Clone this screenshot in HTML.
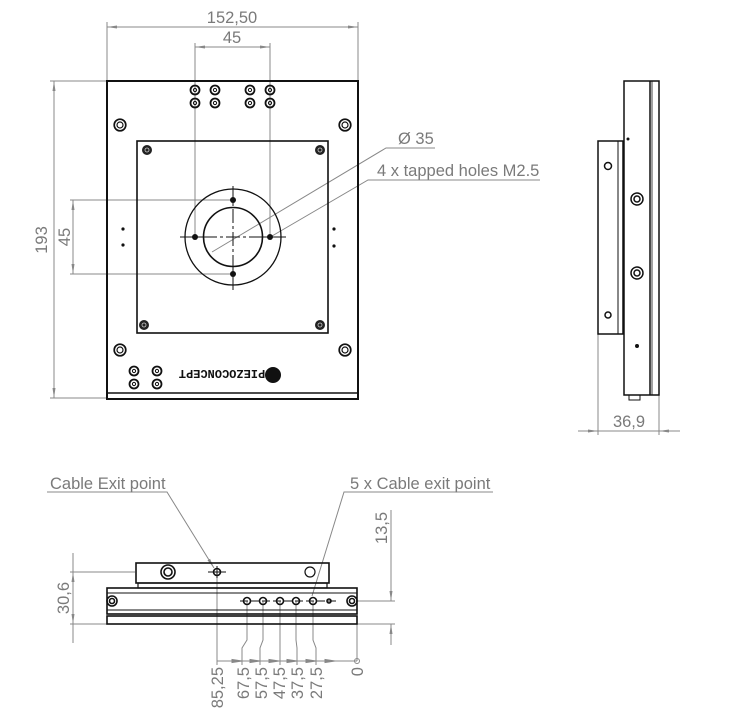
<!DOCTYPE html>
<html><head><meta charset="utf-8"><style>html,body{margin:0;background:#fff}svg{display:block}text{font-family:"Liberation Sans",sans-serif;fill:#7a7a7a;font-size:16.5px}</style></head><body>
<svg width="756" height="720" viewBox="0 0 756 720" xmlns="http://www.w3.org/2000/svg">
<defs>
<marker id="a" viewBox="0 0 10 6" refX="10" refY="3" markerWidth="10" markerHeight="6" orient="auto-start-reverse" markerUnits="userSpaceOnUse"><path d="M0,1.5L10,3L0,4.5z" fill="#888"/></marker>
<g id="dh"><circle r="4.5" fill="none" stroke="#111" stroke-width="1.8"/><circle r="1.6" fill="none" stroke="#111" stroke-width="1"/></g>
<g id="bh"><circle r="5.8" fill="none" stroke="#111" stroke-width="1.7"/><circle r="3" fill="none" stroke="#111" stroke-width="1.2"/></g>
<g id="fh"><circle r="5" fill="#222"/><circle r="2" fill="none" stroke="#ccc" stroke-width="0.8"/></g>
</defs>
<g stroke="#888" stroke-width="1" fill="none">
<line x1="107" y1="22" x2="107" y2="81"/><line x1="358" y1="22" x2="358" y2="81"/>
<line x1="107" y1="27" x2="358" y2="27" marker-start="url(#a)" marker-end="url(#a)"/>
<line x1="195" y1="43" x2="195" y2="237"/><line x1="270" y1="43" x2="270" y2="237"/>
<line x1="195" y1="47" x2="270" y2="47" marker-start="url(#a)" marker-end="url(#a)"/>
<line x1="50" y1="81" x2="107" y2="81"/><line x1="50" y1="398" x2="107" y2="398"/>
<line x1="54" y1="81" x2="54" y2="398" marker-start="url(#a)" marker-end="url(#a)"/>
<line x1="70" y1="200" x2="233" y2="200"/><line x1="70" y1="274" x2="233" y2="274"/>
<line x1="73" y1="200" x2="73" y2="274" marker-start="url(#a)" marker-end="url(#a)"/>
<polyline points="435,148 386,148 212,252"/>
<polyline points="540,180 368,180 272,236" />
<line x1="598" y1="334" x2="598" y2="435"/><line x1="659" y1="395" x2="659" y2="435"/>
<line x1="578" y1="431" x2="598" y2="431" marker-end="url(#a)"/><line x1="680" y1="431" x2="659" y2="431" marker-end="url(#a)"/><line x1="598" y1="431" x2="659" y2="431"/>
<line x1="70" y1="572" x2="135" y2="572"/><line x1="70" y1="624" x2="107" y2="624"/>
<line x1="73" y1="553" x2="73" y2="572" /><line x1="73" y1="572" x2="73" y2="624" marker-start="url(#a)" marker-end="url(#a)"/><line x1="73" y1="624" x2="73" y2="643"/>
<line x1="357" y1="601" x2="395" y2="601"/><line x1="357" y1="624" x2="395" y2="624"/>
<line x1="391" y1="510" x2="391" y2="601" marker-end="url(#a)"/><line x1="391" y1="645" x2="391" y2="624" marker-end="url(#a)"/>
<polyline points="493,492 344,492 312,596"/>
<polyline points="47,492 167,492 214,568" marker-end="url(#a)"/>
<line x1="217" y1="572" x2="217" y2="665"/>
<path d="M247,601V640L242,648V665M263,601V640L260,648V665M280,601V665M296,601V640L297,648V665M313,601V640L316,648V665M357,624V661"/>
<line x1="217" y1="661" x2="357" y2="661"/>
<path d="M242,661l-10,-1.5v3zM260,661l-10,-1.5v3zM279,661l-10,-1.5v3zM297,661l-10,-1.5v3zM316,661l-10,-1.5v3zM335,661l-10,-1.5v3z" fill="#888"/>
<circle cx="357" cy="661" r="2.5"/>
</g>
<g stroke="#111" fill="none">
<rect x="107" y="81" width="251" height="318" stroke-width="2"/>
<line x1="107" y1="393" x2="358" y2="393" stroke-width="1.5"/>
<rect x="137" y="141" width="191" height="192" stroke-width="1.6"/>
<circle cx="233" cy="237" r="48" stroke-width="1.3"/>
<circle cx="233" cy="237" r="29.5" stroke-width="1.6"/>
<path d="M180,237H286M233,186V290" stroke-width="1" stroke-dasharray="14,3,3,3"/>
<path d="M187,237h16M262,237h16M233,192v14M233,268v14" stroke-width="1"/>
</g>
<g fill="#111"><circle cx="195" cy="237" r="3"/><circle cx="270" cy="237" r="3"/><circle cx="233" cy="200" r="3"/><circle cx="233" cy="274" r="3"/>
<circle cx="123" cy="229" r="1.6"/><circle cx="123" cy="245" r="1.6"/><circle cx="334" cy="229" r="1.6"/><circle cx="334" cy="246" r="1.6"/>
<circle cx="273" cy="375" r="8"/></g>
<use href="#dh" x="195" y="90"/><use href="#dh" x="215" y="90"/><use href="#dh" x="250" y="90"/><use href="#dh" x="270" y="90"/>
<use href="#dh" x="195" y="103"/><use href="#dh" x="215" y="103"/><use href="#dh" x="250" y="103"/><use href="#dh" x="270" y="103"/>
<use href="#bh" x="120" y="125"/><use href="#bh" x="345" y="125"/><use href="#bh" x="120" y="350"/><use href="#bh" x="345" y="350"/>
<use href="#fh" x="147" y="150"/><use href="#fh" x="320" y="150"/><use href="#fh" x="144" y="325"/><use href="#fh" x="320" y="325"/>
<use href="#dh" x="134" y="371"/><use href="#dh" x="157" y="371"/><use href="#dh" x="134" y="384"/><use href="#dh" x="157" y="384"/>
<text transform="rotate(180 222 375)" x="222" y="380" text-anchor="middle" style="fill:#111;font-weight:bold;font-size:12px;font-family:'Liberation Mono',monospace">PIEZOCONCEPT</text>
<g stroke="#111" fill="none" stroke-width="1.5">
<rect x="624" y="81" width="35" height="314"/>
<line x1="650" y1="81" x2="650" y2="395"/><line x1="652" y1="81" x2="652" y2="395" stroke-width="0.8"/>
<rect x="629" y="395" width="11" height="5" stroke-width="1"/>
<rect x="598" y="141" width="25" height="193"/>
<line x1="618" y1="141" x2="618" y2="334" stroke-width="1"/>
<circle cx="608" cy="166" r="3.5"/><circle cx="608" cy="315" r="3"/>
<circle cx="637" cy="199" r="6"/><circle cx="637" cy="199" r="3"/>
<circle cx="637" cy="273" r="6"/><circle cx="637" cy="273" r="3"/>
</g>
<circle cx="637" cy="346" r="2" fill="#111"/><circle cx="628" cy="139" r="1.5" fill="#111"/>
<g stroke="#111" fill="none" stroke-width="1.6">
<rect x="136" y="563" width="193" height="20"/>
<rect x="138" y="583" width="189" height="5" stroke-width="1.2"/>
<rect x="107" y="588" width="250" height="26"/>
<line x1="107" y1="593" x2="357" y2="593" stroke-width="1"/>
<line x1="107" y1="610" x2="357" y2="610" stroke-width="1"/>
<rect x="107" y="616" width="250" height="8"/>
<circle cx="168" cy="572" r="7"/><circle cx="168" cy="572" r="4"/>
<circle cx="310" cy="572" r="5" stroke-width="1.2"/>
<circle cx="217" cy="572" r="3.5"/>
<path d="M208,572h18M217,566v12" stroke-width="1"/>
<path d="M240,601H336" stroke-width="1" stroke-dasharray="8,3"/>
<circle cx="247" cy="601" r="3.5"/><circle cx="263" cy="601" r="3.5"/><circle cx="280" cy="601" r="3.5"/><circle cx="296" cy="601" r="3.5"/><circle cx="313" cy="601" r="3.5"/>
<circle cx="329" cy="601" r="2"/>
<circle cx="112" cy="601" r="5"/><circle cx="112" cy="601" r="2.5"/>
<circle cx="352" cy="601" r="5"/><circle cx="352" cy="601" r="2.5"/>
</g>
<text x="232" y="23" text-anchor="middle">152,50</text>
<text x="232" y="43" text-anchor="middle">45</text>
<text transform="rotate(-90 47 240)" x="47" y="240" text-anchor="middle">193</text>
<text transform="rotate(-90 70 237)" x="70" y="237" text-anchor="middle">45</text>
<text x="398" y="144">Ø 35</text>
<text x="377" y="176">4 x tapped holes M2.5</text>
<text x="629" y="427" text-anchor="middle">36,9</text>
<text x="50" y="489">Cable Exit point</text>
<text x="350" y="489">5 x Cable exit point</text>
<text transform="rotate(-90 69 598)" x="69" y="598" text-anchor="middle">30,6</text>
<text transform="rotate(-90 387 528)" x="387" y="528" text-anchor="middle">13,5</text>
<g text-anchor="end">
<text transform="rotate(-90 223 667)" x="223" y="667">85,25</text>
<text transform="rotate(-90 249 667)" x="249" y="667">67,5</text>
<text transform="rotate(-90 267 667)" x="267" y="667">57,5</text>
<text transform="rotate(-90 285 667)" x="285" y="667">47,5</text>
<text transform="rotate(-90 303 667)" x="303" y="667">37,5</text>
<text transform="rotate(-90 322 667)" x="322" y="667">27,5</text>
<text transform="rotate(-90 363 667)" x="363" y="667">0</text>
</g>
</svg>
</body></html>
